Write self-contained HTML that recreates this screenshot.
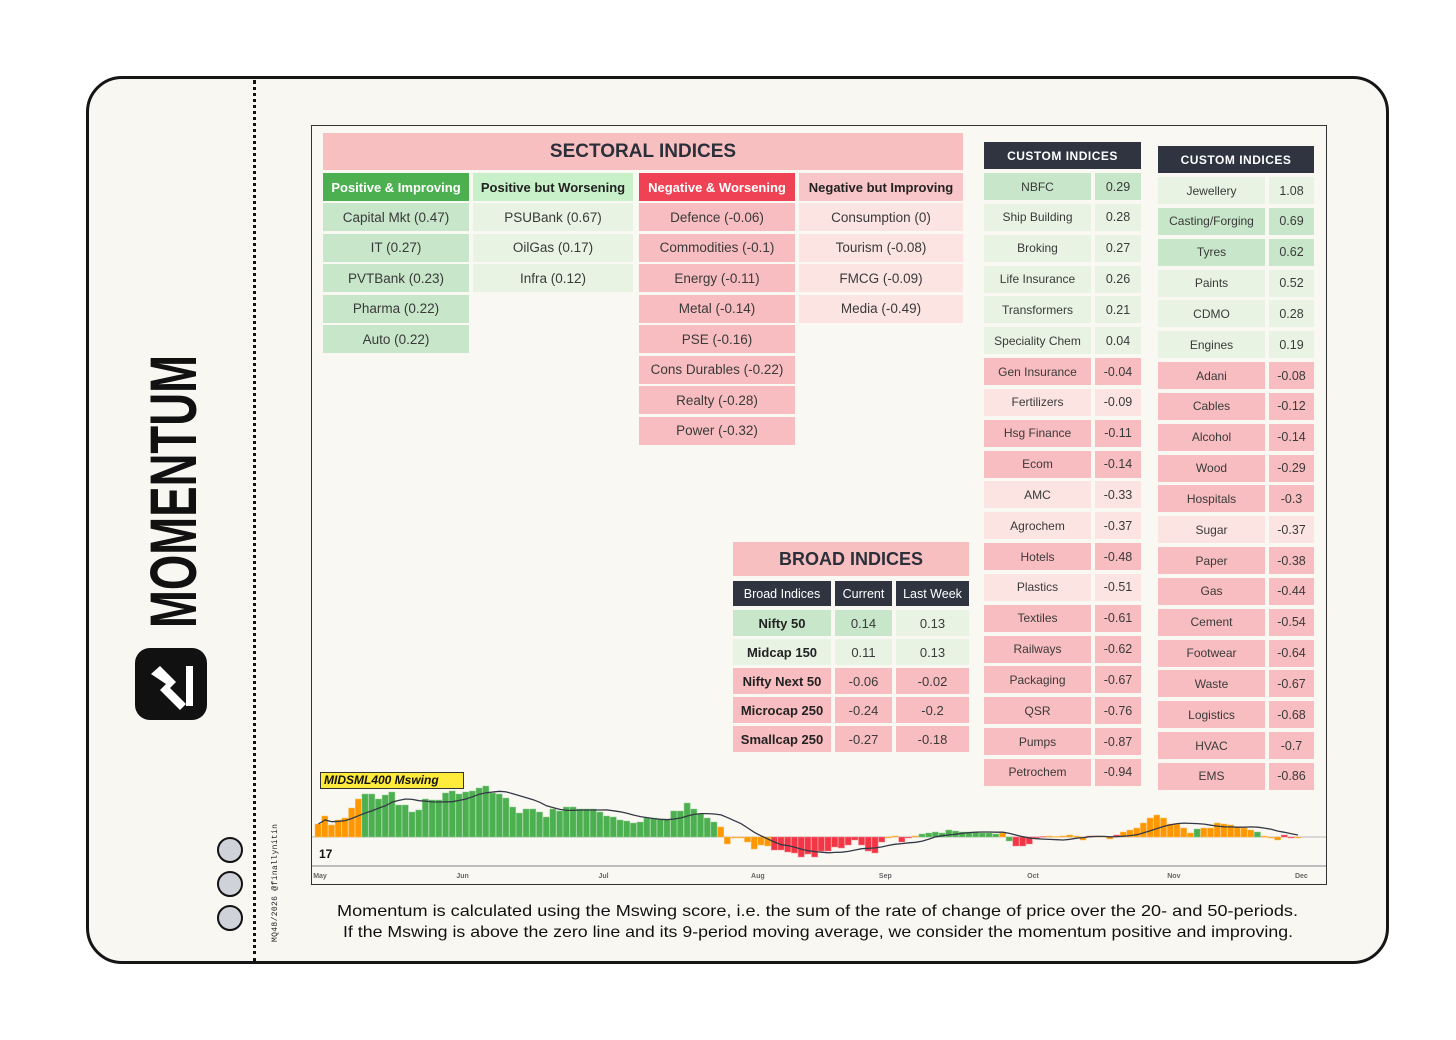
<!DOCTYPE html>
<html><head><meta charset="utf-8">
<style>
*{box-sizing:border-box;margin:0;padding:0}
body{width:1456px;height:1040px;background:#fff;position:relative;overflow:hidden;font-family:"Liberation Sans",sans-serif;color:#333}
.abs{position:absolute}
.c{position:absolute;display:flex;align-items:center;justify-content:center;white-space:nowrap;color:#3a3a3a}
</style></head><body>
<div class="abs" style="left:86px;top:76px;width:1303px;height:888px;border:3px solid #151515;border-radius:36px;background:#f9f7f2"></div>
<div class="abs" style="left:253px;top:80px;width:0;height:882px;border-left:3px dotted #111"></div>

<svg class="abs" style="left:0;top:0" width="320" height="1040">
  <text transform="translate(196,628) rotate(-90)" font-family="Liberation Sans Narrow, Liberation Sans, sans-serif" font-weight="700" font-size="66" textLength="273" lengthAdjust="spacingAndGlyphs" fill="#111">MOMENTUM</text>
  <rect x="135" y="648" width="72" height="72" rx="15" fill="#111"/>
  <path d="M151 674 L160 666 L176 682 L170 688 L186 704 L180 710 L160 690 L166 684 Z" fill="#fff"/>
  <rect x="186" y="666" width="7" height="40" fill="#fff"/>
  <circle cx="230" cy="850" r="12" fill="#cfd2d8" stroke="#111" stroke-width="2"/>
  <circle cx="230" cy="884" r="12" fill="#cfd2d8" stroke="#111" stroke-width="2"/>
  <circle cx="230" cy="918" r="12" fill="#cfd2d8" stroke="#111" stroke-width="2"/>
  <text transform="translate(277,942) rotate(-90)" font-family="Liberation Mono, monospace" font-size="8" textLength="118" fill="#222">MQ48/2026 @finallynitin</text>
</svg>

<div class="abs" style="left:311px;top:125px;width:1016px;height:760px;border:1.5px solid #333;background:#faf8f3"></div>

<div id="tables"></div>

<svg id="chart" class="abs" style="left:312px;top:765px" width="1014" height="119"></svg>
<div class="abs" style="left:320px;top:772px;width:144px;height:17px;background:#ffeb3b;border:1px solid #333;font-weight:700;font-style:italic;font-size:12px;line-height:15px;padding-left:3px;color:#111">MIDSML400 Mswing</div>

<svg class="abs" style="left:0;top:895px" width="1456" height="50">
  <text x="337" y="21" font-size="16" textLength="961" lengthAdjust="spacingAndGlyphs" fill="#111" font-family="Liberation Sans, sans-serif">Momentum is calculated using the Mswing score, i.e. the sum of the rate of change of price over the 20- and 50-periods.</text>
  <text x="343" y="42" font-size="16" textLength="950" lengthAdjust="spacingAndGlyphs" fill="#111" font-family="Liberation Sans, sans-serif">If the Mswing is above the zero line and its 9-period moving average, we consider the momentum positive and improving.</text>
</svg>

<script>
// ---------- tables ----------
const G='#c8e6c9',LG='#e8f3e4',R='#f8bdc0',LR='#fbe4e2';
const T=document.getElementById('tables');
function cell(x,y,w,h,txt,bg,extra){
  const d=document.createElement('div');
  d.className='c';
  d.style.cssText='left:'+x+'px;top:'+y+'px;width:'+w+'px;height:'+h+'px;background:'+bg+';'+(extra||'');
  d.textContent=txt;
  T.appendChild(d);
  return d;
}
let e;
e=cell(323,133,640,37,'SECTORAL INDICES','#f8bfc1','font-weight:700;font-size:19px;color:#2a2f3a');


const secCols=[
 {x:323,w:146,head:'Positive & Improving',hbg:'#4caf50',hc:'#fff',bg:G,items:['Capital Mkt (0.47)','IT (0.27)','PVTBank (0.23)','Pharma (0.22)','Auto (0.22)']},
 {x:473,w:160,head:'Positive but Worsening',hbg:'#c8f0c9',hc:'#222',bg:LG,items:['PSUBank (0.67)','OilGas (0.17)','Infra (0.12)']},
 {x:639,w:156,head:'Negative & Worsening',hbg:'#ef4355',hc:'#fff',bg:R,items:['Defence (-0.06)','Commodities (-0.1)','Energy (-0.11)','Metal (-0.14)','PSE (-0.16)','Cons Durables (-0.22)','Realty (-0.28)','Power (-0.32)']},
 {x:799,w:164,head:'Negative but Improving',hbg:'#f8c6c8',hc:'#222',bg:LR,items:['Consumption (0)','Tourism (-0.08)','FMCG (-0.09)','Media (-0.49)']}
];
secCols.forEach(col=>{
  e=cell(col.x,173,col.w,28,col.head,col.hbg,'font-weight:700;font-size:13px;color:'+col.hc);
  
  
  col.items.forEach((t,i)=>{
    e=cell(col.x,203+i*30.5,col.w,28,t,col.bg,'font-size:13.5px');
    
    
  });
});
// custom 1
const c1=[['NBFC','0.29',G],['Ship Building','0.28',LG],['Broking','0.27',LG],['Life Insurance','0.26',LG],['Transformers','0.21',LG],['Speciality Chem','0.04',LG],['Gen Insurance','-0.04',R],['Fertilizers','-0.09',LR],['Hsg Finance','-0.11',R],['Ecom','-0.14',R],['AMC','-0.33',LR],['Agrochem','-0.37',LR],['Hotels','-0.48',R],['Plastics','-0.51',LR],['Textiles','-0.61',R],['Railways','-0.62',R],['Packaging','-0.67',R],['QSR','-0.76',R],['Pumps','-0.87',R],['Petrochem','-0.94',R]];
const c2=[['Jewellery','1.08',LG],['Casting/Forging','0.69',G],['Tyres','0.62',G],['Paints','0.52',LG],['CDMO','0.28',LG],['Engines','0.19',LG],['Adani','-0.08',R],['Cables','-0.12',R],['Alcohol','-0.14',R],['Wood','-0.29',R],['Hospitals','-0.3',R],['Sugar','-0.37',LR],['Paper','-0.38',R],['Gas','-0.44',R],['Cement','-0.54',R],['Footwear','-0.64',R],['Waste','-0.67',R],['Logistics','-0.68',R],['HVAC','-0.7',R],['EMS','-0.86',R]];
function custom(list,x,hy,y0,nw,vx,vw,name){
  e=cell(x,hy,vx+vw-x,27,'CUSTOM INDICES','#2f3440','font-weight:700;font-size:12px;color:#fff;letter-spacing:0.5px');
  
  
  list.forEach((r,i)=>{
    const y=y0+i*30.84;
    e=cell(x,y,nw,27,r[0],r[2],'font-size:12px');
    
    
    e=cell(vx,y,vw,27,r[1],r[2],'font-size:12.5px');
    
    
  });
}
custom(c1,984,142,173,107,1095,46,'custom-indices-1');
custom(c2,1158,146,177,107,1269,45,'custom-indices-2');
// broad
e=cell(733,542,236,34,'BROAD INDICES','#f8bfc1','font-weight:700;font-size:18px;color:#2a2f3a');


const bx=[733,835,896],bw=[98,57,73];
['Broad Indices','Current','Last Week'].forEach((h,i)=>{
  e=cell(bx[i],581,bw[i],25,h,'#2f3440','font-size:12.5px;color:#fff');
  
  
});
const broad=[['Nifty 50','0.14','0.13',[G,G,LG]],['Midcap 150','0.11','0.13',[LG,LG,LG]],['Nifty Next 50','-0.06','-0.02',[R,R,R]],['Microcap 250','-0.24','-0.2',[R,R,R]],['Smallcap 250','-0.27','-0.18',[R,R,R]]];
broad.forEach((r,j)=>{
  for(let i=0;i<3;i++){
    e=cell(bx[i],610+j*29,bw[i],26,r[i],r[3][i],'font-size:13px;'+(i==0?'font-weight:700;color:#222':''));
    
    
  }
});

// ---------- chart ----------
const mswing=[0.13,0.21,0.12,0.17,0.19,0.29,0.38,0.43,0.43,0.38,0.42,0.45,0.32,0.32,0.25,0.27,0.38,0.37,0.37,0.44,0.46,0.43,0.45,0.46,0.49,0.51,0.44,0.43,0.39,0.30,0.24,0.28,0.28,0.25,0.20,0.28,0.26,0.30,0.30,0.28,0.28,0.28,0.25,0.21,0.20,0.17,0.16,0.14,0.15,0.19,0.19,0.18,0.18,0.26,0.26,0.34,0.28,0.23,0.19,0.15,0.10,-0.07,-0.01,-0.01,-0.05,-0.12,-0.08,-0.09,-0.13,-0.13,-0.15,-0.16,-0.20,-0.17,-0.20,-0.14,-0.14,-0.10,-0.11,-0.08,-0.03,-0.08,-0.14,-0.16,-0.05,-0.01,0.01,-0.05,-0.01,0.01,0.03,0.04,0.05,0.04,0.07,0.06,0.05,0.05,0.05,0.04,0.04,0.03,0.04,-0.04,-0.09,-0.09,-0.07,-0.01,0.005,0.01,0.005,0.01,0.02,0.01,-0.03,0.01,0.01,0.005,-0.02,0.02,0.05,0.07,0.09,0.14,0.19,0.22,0.19,0.13,0.13,0.09,0.04,0.08,0.09,0.09,0.14,0.13,0.12,0.10,0.09,0.07,0.05,0.01,-0.01,-0.03,0.02,-0.01,-0.01];
const status="ooooooogggggggggggggggggggggggggggggggggggggggggggggggggggggoooooooorrrrrrrrrrrrrrrrroorroggggggggggggogrrrrroooooorooorooooooooooogoooooooogooorroor";
const months=['May','Jun','Jul','Aug','Sep','Oct','Nov','Dec'];
const monthBarIdx=[0,22,43,66,85,107,128,147];
const svg=document.getElementById('chart');
const NS='http://www.w3.org/2000/svg';
const x0=3, step=6.71, zeroY=72, pxPerUnit=100;
const xs=i=>x0+i*step;
const ys=v=>zeroY-v*pxPerUnit;
const colors={g:'#4caf50',o:'#ff9800',r:'#f23645'};
const strokes={g:'#8fd092',o:'#ffc266',r:'#f8858f'};
function mk(tag,attrs){const n=document.createElementNS(NS,tag);for(const k in attrs)n.setAttribute(k,attrs[k]);svg.appendChild(n);return n;}
let z=mk('line',{x1:0,x2:1014,y1:zeroY,y2:zeroY,stroke:'#b9b9b9','stroke-width':1});


mswing.forEach((v,i)=>{
  const y=Math.min(ys(v),zeroY), h=Math.max(Math.abs(ys(v)-zeroY),0.8);
  const b=mk('rect',{x:xs(i),y:y,width:step-0.6,height:h,fill:colors[status[i]]||'#ff9800',stroke:strokes[status[i]]||'#ffc266','stroke-width':0.5});
  
  
});
// 9-period moving average
let pts=[];
for(let i=0;i<mswing.length;i++){
  const s=Math.max(0,i-8);let sum=0;for(let k=s;k<=i;k++)sum+=mswing[k];
  pts.push((xs(i)+step/2).toFixed(1)+','+ys(sum/(i-s+1)).toFixed(1));
}
const ma=mk('polyline',{points:pts.join(' '),fill:'none',stroke:'#333a45','stroke-width':1.3});


const ax=mk('line',{x1:0,x2:1014,y1:101,y2:101,stroke:'#bdbdbd','stroke-width':2});


months.forEach((m,i)=>{
  const t=mk('text',{x:Math.min(Math.max(xs(monthBarIdx[i]),8),1000),y:113,'font-size':7,'font-weight':700,fill:'#666','text-anchor':'middle','font-family':'Liberation Sans, sans-serif'});
  t.textContent=m;
  
  
});
const logo=mk('text',{x:7,y:93,'font-size':12,'font-weight':900,fill:'#111','font-family':'Liberation Sans, sans-serif'});
logo.textContent='17';


</script>
</body></html>
